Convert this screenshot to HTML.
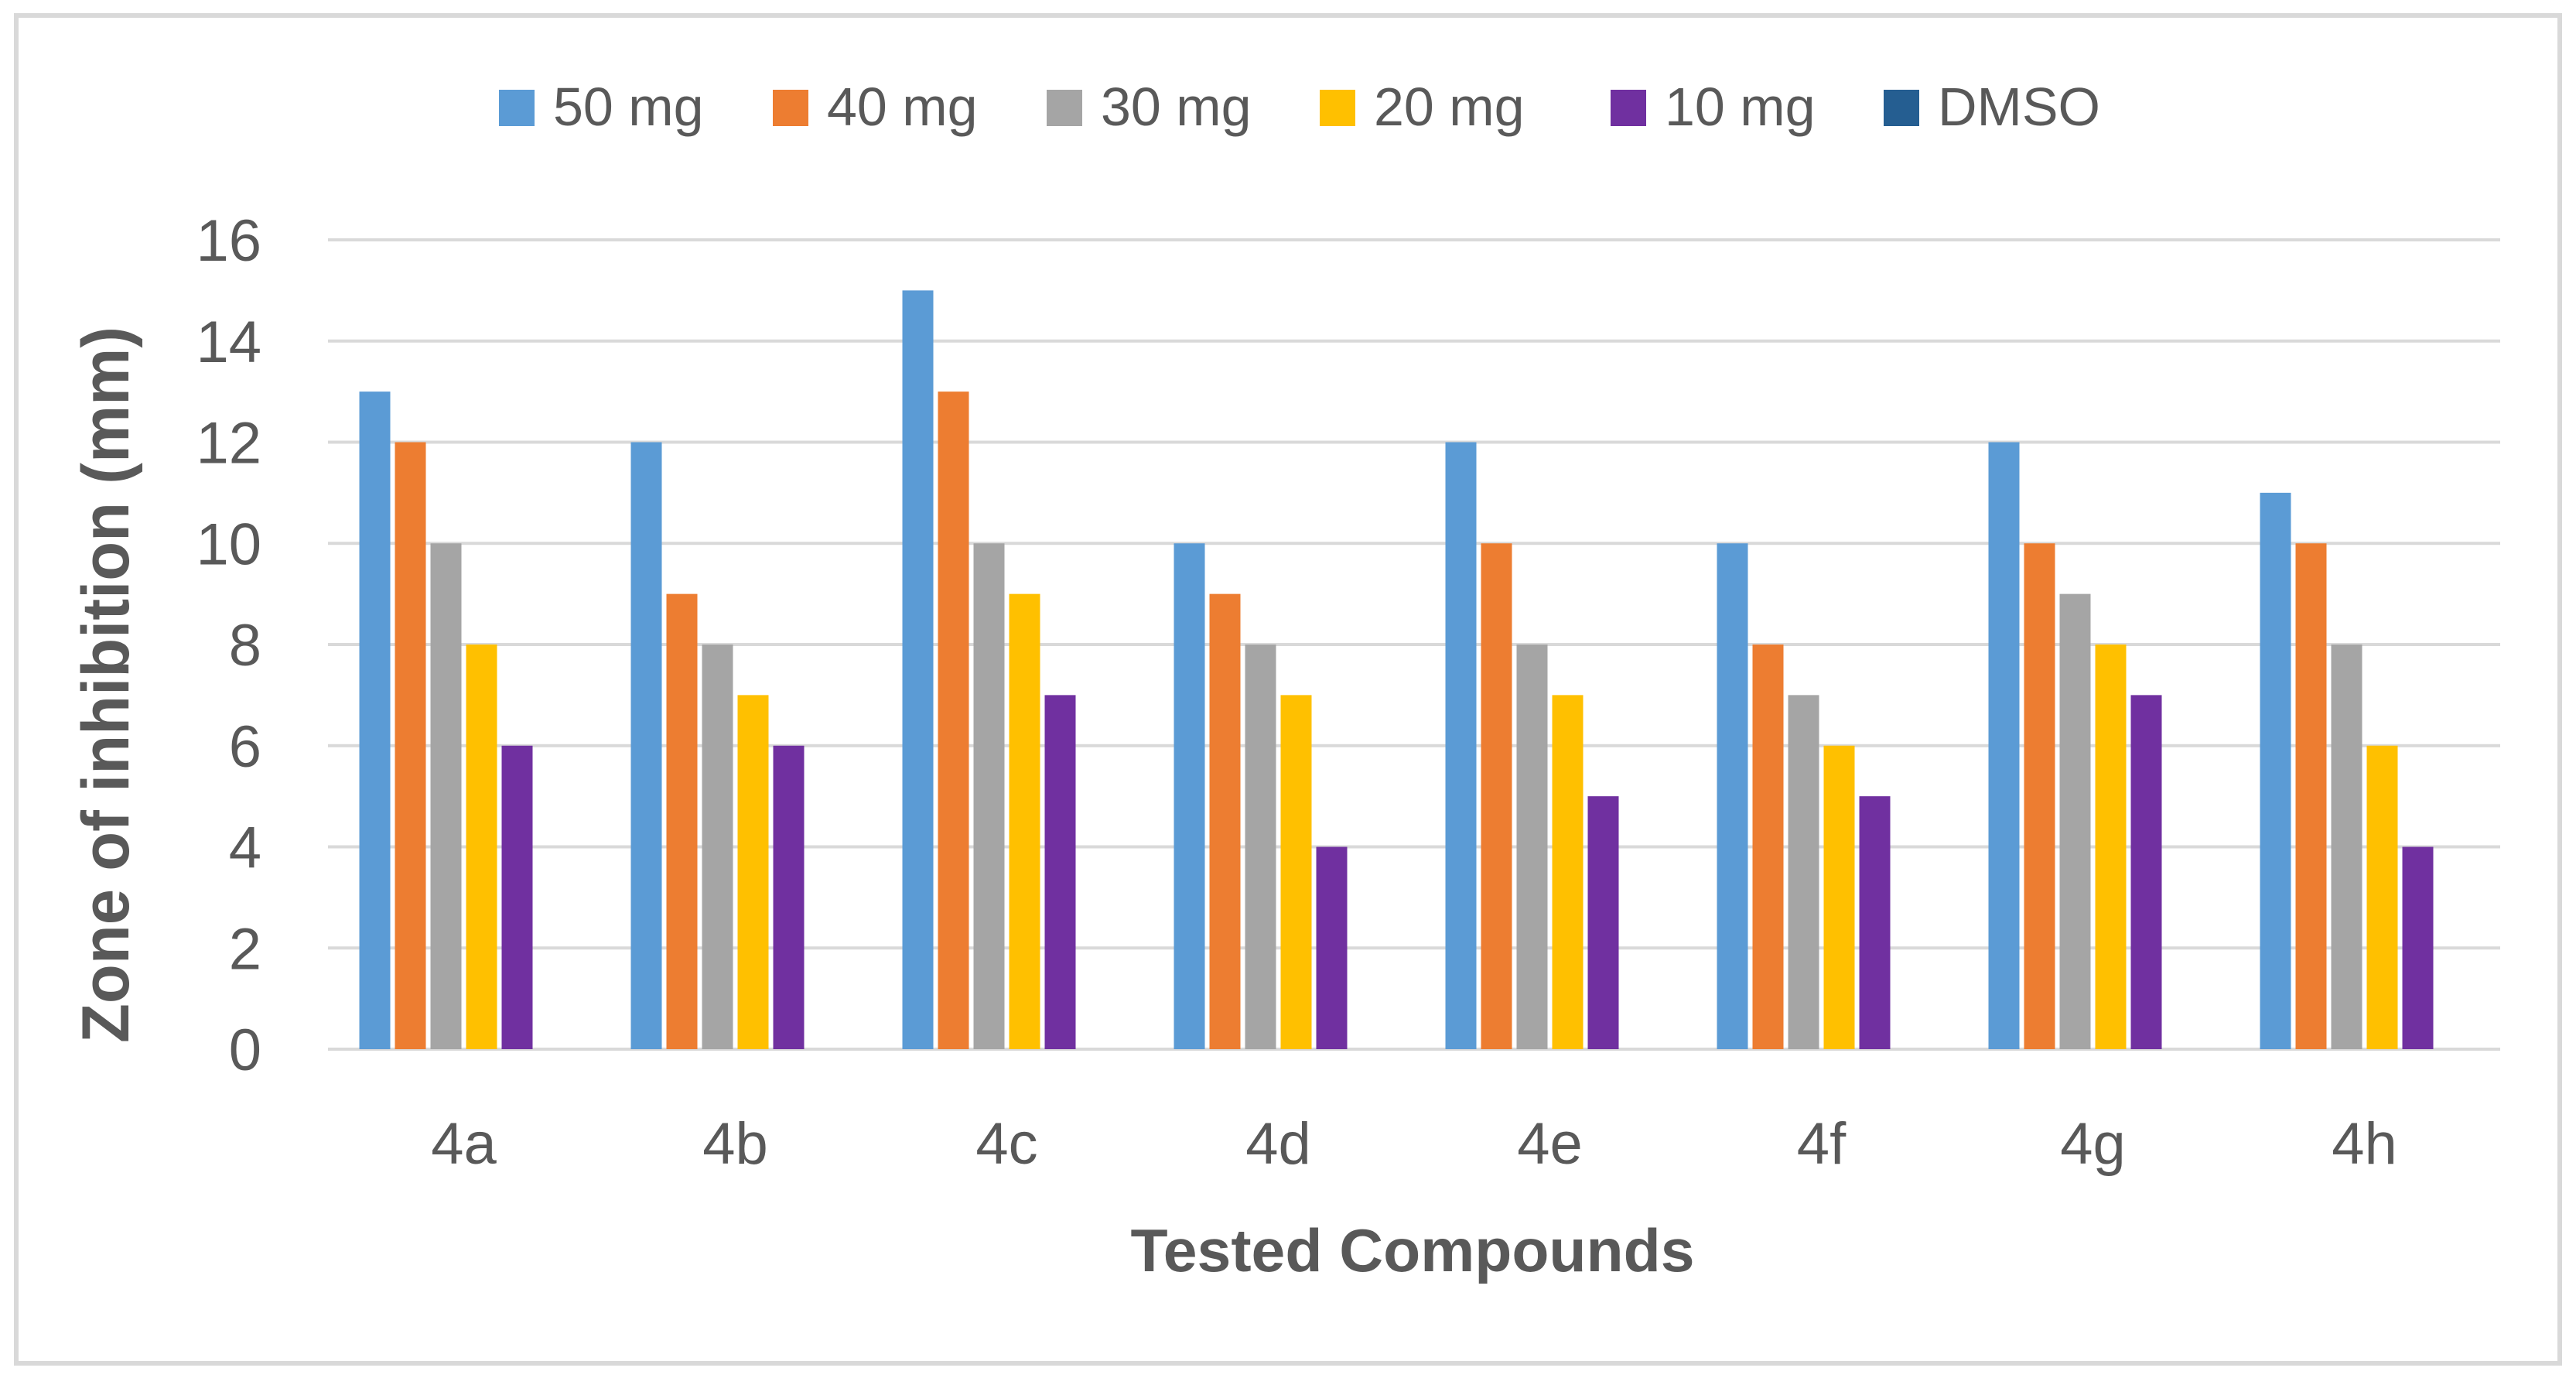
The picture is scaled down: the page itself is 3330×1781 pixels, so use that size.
<!DOCTYPE html>
<html><head><meta charset="utf-8"><style>
html,body{margin:0;padding:0;background:#fff;}
svg{display:block;font-family:"Liberation Sans",sans-serif;}
</style></head><body>
<svg id="chart" width="3330" height="1781" viewBox="0 0 3330 1781">
<rect x="21" y="20" width="3288" height="1742" fill="#fff" stroke="#d9d9d9" stroke-width="6"/>
<g id="grid"></g>
<g id="yticks"></g>
<g id="bars"></g>
<g id="xlabels"></g>
<g id="legend"></g>
<text x="166" y="885" transform="rotate(-90 166 885)" text-anchor="middle" font-size="86" font-weight="bold" fill="#595959" textLength="926" lengthAdjust="spacingAndGlyphs">Zone of inhibition (mm)</text>
<text x="1826" y="1643" text-anchor="middle" font-size="78" font-weight="bold" fill="#595959" textLength="729" lengthAdjust="spacingAndGlyphs">Tested Compounds</text>
</svg>
<script>
const categories = ["4a","4b","4c","4d","4e","4f","4g","4h"];
const seriesNames = ["50 mg","40 mg","30 mg","20  mg","10 mg","DMSO"];
const s50 = [13,12,15,10,12,10,12,11];
const s40 = [12,9,13,9,10,8,10,10];
const s30 = [10,8,10,8,8,7,9,8];
const s20 = [8,7,9,7,7,6,8,6];
const s10 = [6,6,7,4,5,5,7,4];
const sDMSO = [0,0,0,0,0,0,0,0];
const yTicks = [0,2,4,6,8,10,12,14,16];

const series = [s50,s40,s30,s20,s10,sDMSO];
const colors = ["#5b9bd5","#ed7d31","#a5a5a5","#ffc000","#7030a0","#255e91"];
const NS = "http://www.w3.org/2000/svg";
const plotL = 424, plotR = 3232, y0 = 1356, y16 = 310;
const yMax = 16;
const groupW = (plotR - plotL) / categories.length;
const slot = 46, barW = 40;
function yScale(v){ return y0 - (v / yMax) * (y0 - y16); }
function xGroup(i){ return plotL + i * groupW; }
function mk(tag, attrs){ const e = document.createElementNS(NS, tag); for (const k in attrs) e.setAttribute(k, attrs[k]); return e; }

const grid = document.getElementById('grid');
const yt = document.getElementById('yticks');
yTicks.forEach(function(t){
  const l = mk('line', {x1: plotL, x2: plotR, y1: yScale(t), y2: yScale(t), stroke: '#d9d9d9', 'stroke-width': 4});
  
  
  grid.appendChild(l);
  const tx = mk('text', {x: 338, y: yScale(t) + 27, 'text-anchor': 'end', 'font-size': 76, fill: '#595959'});
  tx.textContent = t;
  
  
  yt.appendChild(tx);
});

const bars = document.getElementById('bars');
const offset = (groupW - slot * series.length) / 2 + (slot - barW) / 2;
categories.forEach(function(c, i){
  series.forEach(function(s, j){
    const v = s[i];
    if (v <= 0) return;
    const r = mk('rect', {x: xGroup(i) + offset + j * slot, y: yScale(v), width: barW, height: y0 - yScale(v), fill: colors[j]});
    
    
    bars.appendChild(r);
  });
});

const xl = document.getElementById('xlabels');
categories.forEach(function(c, i){
  const tx = mk('text', {x: xGroup(i) + groupW / 2, y: 1504, 'text-anchor': 'middle', 'font-size': 76, fill: '#595959'});
  tx.textContent = c;
  
  
  xl.appendChild(tx);
});

const lg = document.getElementById('legend');
const legendX = [645, 999, 1353, 1706, 2082, 2435];
seriesNames.forEach(function(n, j){
  const g = mk('g', {});
  
  
  g.appendChild(mk('rect', {x: legendX[j], y: 116, width: 46, height: 47, fill: colors[j]}));
  const tx = mk('text', {x: legendX[j] + 70, y: 162, 'font-size': 70, fill: '#595959', 'xml:space': 'preserve'});
  tx.textContent = n;
  g.appendChild(tx);
  lg.appendChild(g);
});
</script>
</body></html>
